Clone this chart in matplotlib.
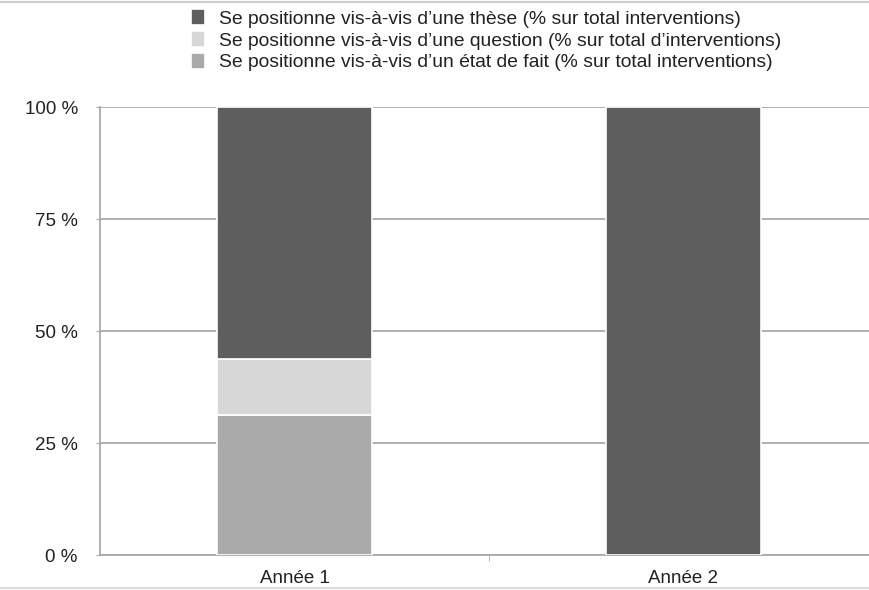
import matplotlib.pyplot as plt
import numpy as np
from matplotlib.lines import Line2D

plt.rcParams['font.family'] = ['Liberation Sans', 'DejaVu Sans']

annees = ['Année 1', 'Année 2']
etat_fait = [31.25, 0]
question = [12.5, 0]
these = [56.25, 100]

noms = ['Se positionne vis-à-vis d\u2019une thèse (% sur total interventions)',
        'Se positionne vis-à-vis d\u2019une question (% sur total d\u2019interventions)',
        'Se positionne vis-à-vis d\u2019un état de fait (% sur total interventions)']
couleurs = ['#5e5e5e', '#d7d7d7', '#aaaaaa']

fig = plt.figure(figsize=(8.7, 5.9), dpi=100)
ax = fig.add_axes([100 / 870, 1 - 555 / 590, 1 - 100 / 870, 448 / 590])

x = np.arange(len(annees))
w = 0.4
b1 = ax.bar(x, etat_fait, w, color=couleurs[2], edgecolor='white', linewidth=1.2, zorder=3)
b2 = ax.bar(x, question, w, bottom=etat_fait, color=couleurs[1], edgecolor='white', linewidth=1.2, zorder=3)
bas = np.array(etat_fait) + np.array(question)
b3 = ax.bar(x, these, w, bottom=bas, color=couleurs[0], edgecolor='white', linewidth=1.2, zorder=3)

ax.set_ylim(0, 100)
ax.set_xlim(-0.5, 1.48)
ax.set_yticks([0, 25, 50, 75, 100])
ax.set_yticklabels(['0 %', '25 %', '50 %', '75 %', '100 %'], fontsize=13.5, color='#222222')
ax.yaxis.grid(True, color='#aaaaaa', linewidth=1.3, zorder=0)
ax.set_xticks(x)
ax.set_xticklabels(annees, fontsize=13.5, color='#222222')
ax.set_xticks([0.5], minor=True)
ax.tick_params(axis='x', which='major', length=0, pad=11)
ax.tick_params(axis='x', which='minor', length=4, color='#aaaaaa')
ax.tick_params(axis='y', length=3, color='#aaaaaa', pad=13)
for s in ['top', 'right']:
    ax.spines[s].set_visible(False)
for s in ['left', 'bottom']:
    ax.spines[s].set_color('#aaaaaa')
    ax.spines[s].set_linewidth(1.3)

leg = fig.legend([b3, b2, b1], noms, loc='upper left', bbox_to_anchor=(191 / 870, 1 - 9 / 590),
                 frameon=False, fontsize=13.85, handlelength=0.75, handleheight=0.9,
                 handletextpad=0.72, labelspacing=0.17, borderaxespad=0, borderpad=0)
for t in leg.get_texts():
    t.set_color('#222222')

fig.add_artist(Line2D([0, 1], [1 - 2 / 590, 1 - 2 / 590], color='#cccccc', linewidth=1.5))
fig.add_artist(Line2D([0, 1], [2 / 590, 2 / 590], color='#dddddd', linewidth=1.5))

fig.savefig('out.png', dpi=100)
